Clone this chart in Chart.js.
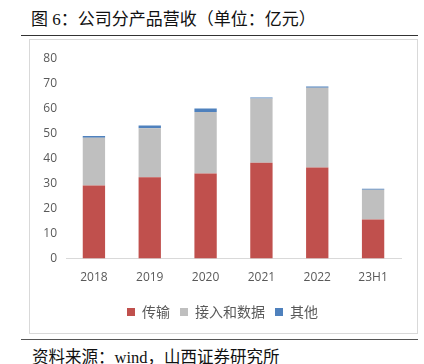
<!DOCTYPE html>
<html>
<head>
<meta charset="utf-8">
<script src="https://cdn.jsdelivr.net/npm/chart.js@4"></script>
<style>
  html, body { margin: 0; padding: 0; background: #fff; }
  body { width: 424px; height: 364px; position: relative; overflow: hidden; font-family: "Liberation Serif", "Noto Sans CJK SC", serif; }
  #title { position: absolute; left: 31px; top: 5px; font-size: 17px; color: #111; white-space: nowrap; }
  #rule-top { position: absolute; left: 21px; top: 35px; width: 397px; height: 1px; background: #333; }
  #box { position: absolute; left: 29px; top: 39px; width: 387px; height: 293px; border: 1px solid #d9d9d9; }
  #rule-bottom { position: absolute; left: 21px; top: 339px; width: 397px; height: 1px; background: #555; }
  #source { position: absolute; left: 32px; top: 344px; font-size: 16.5px; color: #111; white-space: nowrap; }
  canvas { display: block; }
</style>
</head>
<body>
<div id="title">图 6：公司分产品营收（单位：亿元）</div>
<div id="rule-top"></div>
<div id="box"><canvas id="c" width="387" height="293"></canvas></div>
<div id="rule-bottom"></div>
<div id="source">资料来源：wind，山西证券研究所</div>

<script>
// 分类和数据（亿元）
const categories = ['2018', '2019', '2020', '2021', '2022', '23H1'];
const transmission = [29.3, 32.6, 34.1, 38.4, 36.5, 15.7];
const accessData = [19.1, 19.6, 24.7, 25.8, 32.0, 11.9];
const others = [0.7, 1.1, 1.4, 0.4, 0.5, 0.4];
const yTicks = [0, 10, 20, 30, 40, 50, 60, 70, 80];

const tickFont = { family: "'Open Sans', sans-serif", size: 12 };
const textGray = '#595959';

// legend sits a bit right of the canvas centre in the original
const legendNudge = {
    id: 'legendNudge',
    beforeDraw(chart) {
        const lg = chart.legend;
        if (!lg || lg._nudged) return;
        lg.left += 7;
        lg.right += 7;
        lg.top -= 2;
        lg.bottom -= 2;
        lg._nudged = true;
    }
};

new Chart(document.getElementById('c'), {
    type: 'bar',
    data: {
        labels: categories,
        datasets: [
            { label: '传输', data: transmission, backgroundColor: '#C0504D' },
            { label: '接入和数据', data: accessData, backgroundColor: '#BFBFBF' },
            { label: '其他', data: others, backgroundColor: '#4F81BD' }
        ]
    },
    options: {
        responsive: false,
        animation: false,
        layout: { padding: { left: 0, right: 16, top: 19, bottom: 2 } },
        datasets: { bar: { barPercentage: 0.4, categoryPercentage: 1.0 } },
        plugins: {
            legend: {
                position: 'bottom',
                labels: {
                    color: textGray,
                    font: { family: "'Noto Sans CJK SC', sans-serif", size: 14 },
                    boxWidth: 8,
                    boxHeight: 8,
                    padding: 10
                }
            },
            tooltip: { enabled: false }
        },
        scales: {
            x: {
                stacked: true,
                grid: { display: false, drawTicks: false },
                border: { color: '#d9d9d9' },
                ticks: { color: textGray, font: tickFont, padding: 12 }
            },
            y: {
                stacked: true,
                min: 0,
                max: 80,
                afterFit: (s) => { s.width = 36; },
                afterBuildTicks: (s) => { s.ticks = yTicks.map(v => ({ value: v })); },
                grid: { display: false, drawTicks: false },
                border: { display: false },
                ticks: { color: textGray, font: tickFont, padding: 9 }
            }
        }
    },
    plugins: [legendNudge]
});
</script>
</body>
</html>
